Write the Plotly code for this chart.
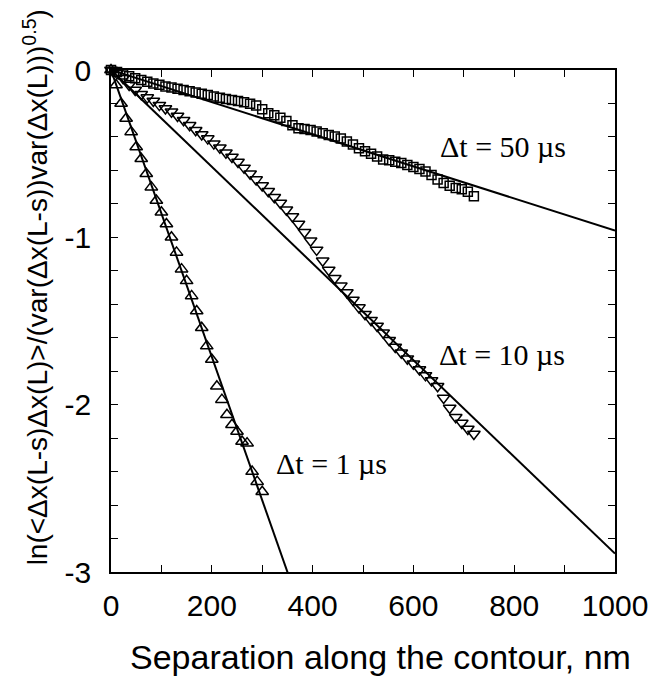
import plotly.graph_objects as go

# Separation along the contour (nm)
s_1us = [0, 10, 20, 30, 40, 50, 60, 70, 80, 90, 100, 110, 120, 130, 140, 150,
         160, 170, 180, 190, 200, 210, 220, 230, 240, 250, 260, 270, 280, 290, 300]
y_1us = [0.00, -0.09, -0.20, -0.29, -0.37, -0.46, -0.53, -0.62, -0.70, -0.78,
         -0.85, -0.92, -1.00, -1.09, -1.19, -1.26, -1.35, -1.44, -1.54, -1.65,
         -1.73, -1.89, -1.97, -2.06, -2.12, -2.16, -2.22, -2.23, -2.40, -2.46, -2.52]

s_long = [0, 12, 24, 36, 48, 60, 72, 84, 96, 108, 120, 132, 144, 156, 168, 180,
          192, 204, 216, 228, 240, 252, 264, 276, 288, 300, 312, 324, 336, 348,
          360, 372, 384, 396, 408, 420, 432, 444, 456, 468, 480, 492, 504, 516,
          528, 540, 552, 564, 576, 588, 600, 612, 624, 636, 648, 660, 672, 684,
          696, 708, 720]

y_10us = [0.00, -0.02, -0.05, -0.09, -0.12, -0.145, -0.165, -0.185, -0.21, -0.23,
          -0.25, -0.275, -0.30, -0.33, -0.36, -0.385, -0.41, -0.44, -0.465, -0.495,
          -0.52, -0.55, -0.585, -0.62, -0.655, -0.69, -0.725, -0.76, -0.795, -0.835,
          -0.875, -0.92, -0.97, -1.02, -1.075, -1.14, -1.195, -1.245, -1.29, -1.33,
          -1.375, -1.42, -1.46, -1.495, -1.53, -1.57, -1.615, -1.655, -1.69, -1.725,
          -1.755, -1.79, -1.825, -1.855, -1.89, -1.96, -2.02, -2.075, -2.11, -2.145,
          -2.175]

y_50us = [0.00, -0.012, -0.027, -0.038, -0.05, -0.06, -0.07, -0.08, -0.088, -0.098,
          -0.105, -0.112, -0.12, -0.127, -0.134, -0.142, -0.15, -0.158, -0.166, -0.174,
          -0.18, -0.186, -0.192, -0.202, -0.212, -0.235, -0.258, -0.27, -0.285, -0.305,
          -0.33, -0.348, -0.352, -0.358, -0.368, -0.378, -0.388, -0.397, -0.41, -0.428,
          -0.445, -0.468, -0.485, -0.50, -0.517, -0.535, -0.54, -0.548, -0.556, -0.568,
          -0.58, -0.592, -0.606, -0.628, -0.655, -0.675, -0.692, -0.705, -0.712, -0.728,
          -0.755]

# Exponential-decay fits: ln(correlation) = slope * s
fit_slopes = {"1": -0.00857, "10": -0.00289, "50": -0.00096}
fit_s = [0, 1000]

labels = ["Δt = 50 µs", "Δt = 10 µs", "Δt = 1 µs"]
label_x = [778, 775, 438]
label_y = [-0.46, -1.70, -2.35]

x_ticks = [0, 200, 400, 600, 800, 1000]
y_ticks = [0, -1, -2, -3]
y_ticktext = ["0", "-1", "-2", "-3"]

fig = go.Figure()

for key in ["50", "10", "1"]:
    k = fit_slopes[key]
    fig.add_trace(go.Scatter(
        x=fit_s, y=[k * s for s in fit_s], mode="lines",
        line=dict(color="black", width=2), showlegend=False, hoverinfo="skip"))

marker_line = dict(color="black", width=1.5)
fig.add_trace(go.Scatter(
    x=s_long, y=y_50us, mode="markers", cliponaxis=False,
    marker=dict(symbol="square-open", size=9, color="black", line=marker_line),
    showlegend=False))
fig.add_trace(go.Scatter(
    x=s_long, y=y_10us, mode="markers", cliponaxis=False,
    marker=dict(symbol="triangle-down-open", size=11, color="black", line=marker_line),
    showlegend=False))
fig.add_trace(go.Scatter(
    x=s_1us, y=y_1us, mode="markers", cliponaxis=False,
    marker=dict(symbol="triangle-up-open", size=11, color="black", line=marker_line),
    showlegend=False))

for txt, lx, ly in zip(labels, label_x, label_y):
    fig.add_annotation(x=lx, y=ly, text=txt, showarrow=False,
                       xanchor="center", yanchor="middle",
                       font=dict(family="Liberation Serif", size=30, color="black"))

# Rotated y-axis title
fig.add_annotation(
    xref="paper", yref="paper", x=0, y=0.567, xshift=-75,
    text="ln(<Δx(L-s)Δx(L)>/(var(Δx(L-s))var(Δx(L)))<sup>0.5</sup>)",
    textangle=-90, showarrow=False, xanchor="center", yanchor="middle",
    font=dict(family="Liberation Sans", size=28, color="black"))

# x-axis title
fig.add_annotation(
    xref="paper", yref="paper", x=0.534, y=0, yshift=-85,
    text="Separation along the contour, nm", showarrow=False,
    xanchor="center", yanchor="middle",
    font=dict(family="Liberation Sans", size=34, color="black"))

axis_common = dict(
    showline=True, linecolor="black", linewidth=1.5, mirror="ticks",
    ticks="inside", ticklen=7, tickwidth=1.3, tickcolor="black",
    showgrid=False, zeroline=False,
    tickfont=dict(family="Liberation Sans", size=30, color="black"),
)

fig.update_xaxes(
    range=[0, 1000], tickvals=x_ticks, ticklabelstandoff=6,
    minor=dict(dtick=100, tick0=0, ticks="inside", ticklen=7, tickwidth=1.3,
               tickcolor="black"),
    **axis_common)
fig.update_yaxes(
    range=[-3, 0], tickvals=y_ticks, ticktext=y_ticktext, ticklabelstandoff=12,
    minor=dict(dtick=0.2, tick0=0, ticks="inside", ticklen=7, tickwidth=1.3,
               tickcolor="black"),
    **axis_common)

fig.update_layout(
    width=665, height=677,
    margin=dict(l=111, r=50, t=70, b=105),
    paper_bgcolor="white", plot_bgcolor="white",
)

fig.write_html("out.html")
